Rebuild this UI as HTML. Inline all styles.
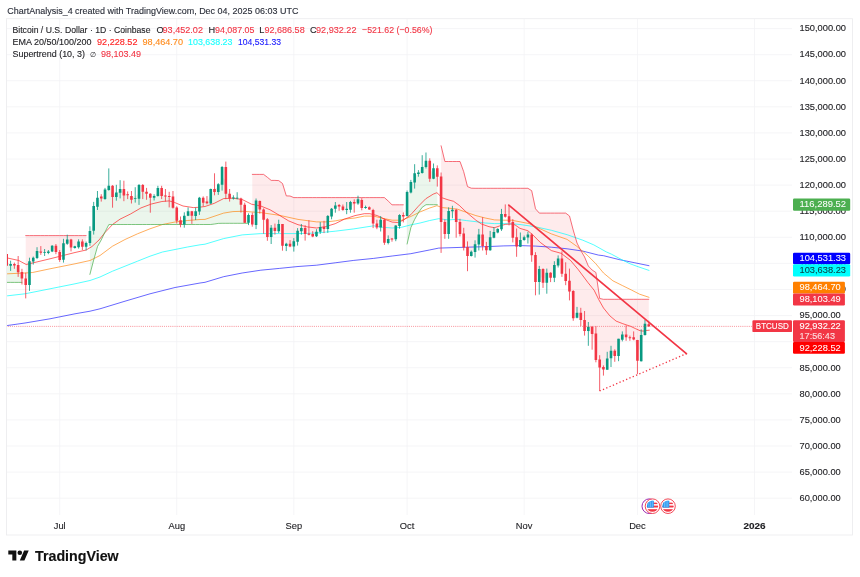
<!DOCTYPE html>
<html lang="en"><head><meta charset="utf-8"><title>BTCUSD chart</title>
<style>html,body{margin:0;padding:0;background:#fff;}body{width:860px;height:577px;overflow:hidden;position:relative;font-family:"Liberation Sans", Arial, Helvetica, sans-serif;}svg{position:absolute;left:0;top:0;display:block}text{font-family:"Liberation Sans", Arial, Helvetica, sans-serif;}</style>
</head><body>
<svg width="860" height="577" viewBox="0 0 860 577">
<rect width="860" height="577" fill="#ffffff"/>
<defs><clipPath id="cp"><rect x="6.5" y="18.7" width="785.5" height="496.3"/></clipPath></defs>
<path d="M6.5 28.60H792.0M6.5 54.69H792.0M6.5 80.78H792.0M6.5 106.87H792.0M6.5 132.96H792.0M6.5 159.05H792.0M6.5 185.14H792.0M6.5 211.23H792.0M6.5 237.32H792.0M6.5 263.41H792.0M6.5 289.50H792.0M6.5 315.59H792.0M6.5 341.68H792.0M6.5 367.77H792.0M6.5 393.86H792.0M6.5 419.95H792.0M6.5 446.04H792.0M6.5 472.13H792.0M6.5 498.22H792.0M59.70 18.7V515.0M176.76 18.7V515.0M293.81 18.7V515.0M407.09 18.7V515.0M524.15 18.7V515.0M637.43 18.7V515.0M754.48 18.7V515.0" stroke="#f3f3f5" stroke-width="0.8" fill="none"/>
<g clip-path="url(#cp)">
<polygon points="25.7,235.6 29.5,235.6 33.3,235.6 37.0,235.6 40.8,235.6 44.6,235.6 48.4,235.6 52.1,235.6 55.9,235.6 59.7,235.6 63.5,235.6 67.3,235.6 71.0,235.6 74.8,235.6 78.6,235.6 82.4,235.6 86.1,235.6 86.1,245.5 82.4,244.4 78.6,244.2 74.8,247.1 71.0,244.3 67.3,240.7 63.5,251.1 59.7,256.0 55.9,249.0 52.1,248.6 48.4,252.2 44.6,252.5 40.8,251.3 37.0,253.8 33.3,260.1 29.5,273.6 25.7,283.7" fill="rgba(242,54,69,0.10)"/>
<polygon points="89.9,274.4 93.7,260.0 97.5,246.5 101.2,240.0 105.0,232.0 108.8,224.6 112.6,224.5 116.3,224.5 120.1,224.5 123.9,224.5 127.7,224.5 131.4,224.5 135.2,224.5 139.0,224.5 142.8,224.5 146.5,224.5 150.3,224.5 154.1,224.5 157.9,224.5 161.7,224.5 165.4,224.5 169.2,224.5 173.0,224.5 176.8,224.5 180.5,224.5 184.3,224.5 188.1,224.5 191.9,224.5 195.6,224.5 199.4,224.5 203.2,224.5 207.0,224.5 210.7,224.5 214.5,224.0 218.3,223.4 222.1,223.3 225.8,223.3 229.6,223.3 233.4,223.3 237.2,223.3 240.9,223.3 244.7,223.3 248.5,223.3 248.5,219.1 244.7,213.3 240.9,203.4 237.2,196.9 233.4,197.7 229.6,195.7 225.8,180.4 222.1,177.1 218.3,188.6 214.5,187.5 210.7,196.3 207.0,201.3 203.2,200.8 199.4,205.3 195.6,213.8 191.9,215.5 188.1,212.7 184.3,220.1 180.5,222.1 176.8,214.5 173.0,201.0 169.2,198.1 165.4,195.7 161.7,192.2 157.9,191.6 154.1,197.1 150.3,199.3 146.5,193.3 142.8,190.0 139.0,193.2 135.2,196.6 131.4,197.6 127.7,195.0 123.9,191.6 120.1,190.1 116.3,193.7 112.6,193.9 108.8,183.7 105.0,194.1 101.2,197.7 97.5,201.3 93.7,218.4 89.9,236.5" fill="rgba(76,175,80,0.11)"/>
<polygon points="252.3,174.4 256.1,174.4 259.8,174.4 263.6,174.4 267.4,177.3 271.2,180.4 274.9,180.4 278.7,180.6 282.5,183.5 286.3,195.9 290.0,196.0 293.8,197.6 297.6,197.6 301.4,197.6 305.1,197.6 308.9,197.6 312.7,197.6 316.5,197.6 320.2,197.6 324.0,197.6 327.8,197.6 331.6,197.6 335.3,197.6 339.1,197.6 342.9,197.6 346.7,197.6 350.5,197.6 354.2,197.6 358.0,197.6 361.8,197.6 365.6,197.6 369.3,197.6 373.1,197.6 376.9,197.6 380.7,197.6 384.4,197.6 388.2,201.0 392.0,204.8 395.8,204.8 399.5,204.8 403.3,204.8 403.3,216.6 399.5,221.0 395.8,232.8 392.0,239.4 388.2,240.4 384.4,231.5 380.7,223.7 376.9,225.0 373.1,217.5 369.3,208.2 365.6,207.3 361.8,204.2 358.0,200.9 354.2,204.4 350.5,206.4 346.7,208.7 342.9,207.9 339.1,206.6 335.3,207.3 331.6,213.1 327.8,223.3 324.0,227.6 320.2,228.7 316.5,233.6 312.7,234.7 308.9,230.9 305.1,231.9 301.4,229.5 297.6,236.5 293.8,244.3 290.0,244.4 286.3,245.9 282.5,236.1 278.7,227.0 274.9,229.2 271.2,233.5 267.4,228.8 263.6,217.8 259.8,206.2 256.1,213.3 252.3,219.7" fill="rgba(242,54,69,0.10)"/>
<polygon points="407.1,244.0 410.9,227.5 414.6,219.5 418.4,212.7 422.2,207.3 426.0,204.7 429.7,204.7 433.5,204.7 437.3,204.7 437.3,174.2 433.5,172.4 429.7,169.9 426.0,162.2 422.2,167.2 418.4,173.3 414.6,177.1 410.9,186.9 407.1,203.8" fill="rgba(76,175,80,0.11)"/>
<polygon points="441.1,145.8 444.9,161.5 448.6,161.5 452.4,161.5 456.2,161.5 460.0,161.5 463.7,171.7 467.5,186.6 471.3,188.2 475.1,188.3 478.8,188.3 482.6,188.3 486.4,188.3 490.2,188.3 493.9,188.3 497.7,188.3 501.5,188.3 505.3,188.3 509.0,188.3 512.8,188.3 516.6,188.3 520.4,188.3 524.1,188.3 527.9,188.3 531.7,190.7 535.5,208.8 539.3,213.1 543.0,213.1 546.8,213.1 550.6,213.1 554.4,213.1 558.1,213.1 561.9,213.1 565.7,213.1 569.5,216.0 573.2,230.0 577.0,243.0 580.8,250.5 584.6,257.0 588.3,266.0 592.1,270.0 595.9,272.5 599.7,298.5 603.4,299.3 607.2,299.3 611.0,299.3 614.8,299.3 618.5,299.3 622.3,299.3 626.1,299.3 629.9,299.3 633.7,299.3 637.4,299.3 641.2,299.3 645.0,299.3 648.8,299.3 648.8,324.5 645.0,328.6 641.2,346.8 637.4,353.6 633.7,337.1 629.9,338.0 626.1,334.5 622.3,336.8 618.5,348.7 614.8,354.5 611.0,355.5 607.2,362.4 603.4,369.4 599.7,368.3 595.9,345.5 592.1,334.2 588.3,331.3 584.6,324.3 580.8,316.7 577.0,314.0 573.2,305.1 569.5,285.3 565.7,275.5 561.9,265.1 558.1,261.7 554.4,271.5 550.6,276.1 546.8,279.4 543.0,277.0 539.3,277.9 535.5,271.1 531.7,246.2 527.9,236.8 524.1,238.4 520.4,241.5 516.6,242.3 512.8,230.3 509.0,217.4 505.3,213.2 501.5,220.8 497.7,230.7 493.9,233.7 490.2,242.3 486.4,248.3 482.6,237.1 478.8,239.6 475.1,248.6 471.3,253.7 467.5,253.9 463.7,239.8 460.0,227.8 456.2,219.6 452.4,211.3 448.6,222.8 444.9,228.5 441.1,205.9" fill="rgba(242,54,69,0.10)"/>
<polygon points="6.5,282.4 21.9,282.4 21.9,276.0 18.2,267.5 14.4,265.2 10.6,265.3 6.5,261" fill="rgba(76,175,80,0.11)"/>
<polyline points="7.5,325.5 25.0,323.0 50.0,318.8 75.0,313.8 90.0,311.2 100.0,308.8 125.0,301.2 150.0,293.8 175.0,287.5 200.0,283.0 205.0,282.3 223.6,276.7 242.2,273.0 260.8,270.2 279.4,268.4 298.0,266.5 316.6,265.2 335.2,262.8 353.8,260.4 373.6,258.4 392.2,256.0 410.8,253.7 429.4,250.0 438.7,248.1 448.0,247.8 466.6,247.2 485.2,246.7 503.8,245.9 520.0,245.6 535.7,246.1 551.4,247.2 567.1,248.8 582.8,251.1 598.5,255.1 603.5,255.7 619.2,259.6 634.9,262.8 649.0,265.7" fill="none" stroke="#0000ff" stroke-width="0.8" stroke-opacity="0.75" stroke-linejoin="round" stroke-linecap="round"/>
<polyline points="7.5,295.8 25.0,293.8 50.0,288.8 75.0,283.8 90.0,280.5 100.0,277.0 112.5,271.2 125.0,266.2 137.5,261.2 150.0,256.2 162.5,252.0 175.0,249.5 187.5,247.0 200.0,244.8 205.0,244.2 223.6,238.6 242.2,234.9 260.8,233.6 279.4,233.6 298.0,233.6 316.6,233.0 335.2,231.2 353.8,228.9 373.6,225.8 382.9,227.3 392.2,228.0 401.5,227.3 410.8,224.9 420.1,223.0 429.4,220.6 438.7,218.7 448.0,219.9 457.3,219.3 466.6,220.6 475.9,221.7 485.2,223.0 494.5,223.6 503.8,223.6 515.0,224.0 520.0,224.5 535.7,226.8 551.4,230.3 567.1,234.7 582.8,240.2 593.8,244.9 606.3,251.9 611.3,254.1 622.0,259.8 629.9,263.7 638.0,266.7 649.0,270.4" fill="none" stroke="#00ffff" stroke-width="0.8" stroke-opacity="0.85" stroke-linejoin="round" stroke-linecap="round"/>
<polyline points="7.5,273.8 25.0,273.0 32.5,272.5 50.0,268.8 75.0,263.8 90.0,260.5 100.0,255.5 112.5,246.2 125.0,239.5 137.5,233.8 150.0,228.8 162.5,224.5 175.0,222.0 187.5,220.5 200.0,219.5 205.0,219.4 223.6,213.1 232.9,211.6 242.2,211.3 260.8,212.6 279.4,215.3 298.0,219.4 316.6,221.9 325.9,221.9 335.2,220.9 344.5,219.1 355.0,218.0 364.3,216.1 373.6,216.1 382.9,218.4 392.2,220.2 401.5,220.2 410.8,216.5 420.1,211.9 429.4,208.1 436.9,205.7 442.4,207.6 448.0,208.1 457.3,209.1 466.6,212.4 475.9,215.6 485.2,218.0 494.5,219.9 503.8,220.2 511.3,220.2 520.0,221.8 529.4,223.7 535.7,226.8 551.4,233.9 567.1,239.4 576.8,246.3 587.8,255.7 595.6,263.5 603.5,273.0 612.9,280.8 622.3,285.5 631.8,290.2 639.6,294.2 649.0,297.3" fill="none" stroke="#ff8000" stroke-width="0.8" stroke-opacity="0.8" stroke-linejoin="round" stroke-linecap="round"/>
<polyline points="7.5,258.0 18.8,260.5 26.2,264.5 32.5,263.0 50.0,258.8 75.0,252.5 86.2,250.0 92.0,246.5 99.0,240.0 105.0,232.5 112.9,224.2 120.0,219.2 130.5,214.0 141.0,207.9 151.4,204.0 161.9,201.5 169.2,200.9 174.4,202.4 183.0,206.0 193.3,207.6 198.5,207.3 205.0,206.5 214.3,203.3 223.6,198.6 232.9,198.2 242.2,199.5 251.5,204.2 260.8,206.0 270.1,209.8 279.4,215.3 288.7,220.9 298.0,224.7 307.3,226.9 316.6,228.0 325.9,226.5 335.2,223.7 344.5,219.1 355.0,215.6 364.3,213.7 369.9,213.7 377.3,215.6 384.8,219.3 392.2,222.1 397.8,222.5 403.4,220.2 410.8,214.7 418.3,206.3 425.7,198.8 433.1,194.2 436.9,192.7 442.4,197.9 448.0,199.8 453.6,201.3 459.2,205.3 466.6,212.4 475.9,220.2 481.5,224.0 489.0,226.7 494.5,227.7 500.1,225.8 505.7,224.3 511.3,224.0 515.0,224.9 520.0,228.4 527.8,230.7 532.6,234.7 540.4,242.5 551.4,250.6 561.1,253.3 570.5,260.4 578.4,269.8 587.8,282.4 594.1,290.2 598.8,299.7 603.5,308.0 609.8,315.8 616.1,321.1 622.8,323.7 630.6,326.3 635.4,328.6 640.1,330.7 643.2,331.1 645.6,330.5 649.3,330.2" fill="none" stroke="#ff0000" stroke-width="0.8" stroke-opacity="0.75" stroke-linejoin="round" stroke-linecap="round"/>
<polyline points="6.8,282.4 10.6,282.4 14.4,282.4 18.2,282.4 21.9,282.4" fill="none" stroke="#4caf50" stroke-width="0.8" stroke-opacity="0.9" stroke-linejoin="round" stroke-linecap="round"/>
<polyline points="25.7,235.6 29.5,235.6 33.3,235.6 37.0,235.6 40.8,235.6 44.6,235.6 48.4,235.6 52.1,235.6 55.9,235.6 59.7,235.6 63.5,235.6 67.3,235.6 71.0,235.6 74.8,235.6 78.6,235.6 82.4,235.6 86.1,235.6" fill="none" stroke="#f23645" stroke-width="0.8" stroke-opacity="0.9" stroke-linejoin="round" stroke-linecap="round"/>
<polyline points="89.9,274.4 93.7,260.0 97.5,246.5 101.2,240.0 105.0,232.0 108.8,224.6 112.6,224.5 116.3,224.5 120.1,224.5 123.9,224.5 127.7,224.5 131.4,224.5 135.2,224.5 139.0,224.5 142.8,224.5 146.5,224.5 150.3,224.5 154.1,224.5 157.9,224.5 161.7,224.5 165.4,224.5 169.2,224.5 173.0,224.5 176.8,224.5 180.5,224.5 184.3,224.5 188.1,224.5 191.9,224.5 195.6,224.5 199.4,224.5 203.2,224.5 207.0,224.5 210.7,224.5 214.5,224.0 218.3,223.4 222.1,223.3 225.8,223.3 229.6,223.3 233.4,223.3 237.2,223.3 240.9,223.3 244.7,223.3 248.5,223.3" fill="none" stroke="#4caf50" stroke-width="0.8" stroke-opacity="0.9" stroke-linejoin="round" stroke-linecap="round"/>
<polyline points="252.3,174.4 256.1,174.4 259.8,174.4 263.6,174.4 267.4,177.3 271.2,180.4 274.9,180.4 278.7,180.6 282.5,183.5 286.3,195.9 290.0,196.0 293.8,197.6 297.6,197.6 301.4,197.6 305.1,197.6 308.9,197.6 312.7,197.6 316.5,197.6 320.2,197.6 324.0,197.6 327.8,197.6 331.6,197.6 335.3,197.6 339.1,197.6 342.9,197.6 346.7,197.6 350.5,197.6 354.2,197.6 358.0,197.6 361.8,197.6 365.6,197.6 369.3,197.6 373.1,197.6 376.9,197.6 380.7,197.6 384.4,197.6 388.2,201.0 392.0,204.8 395.8,204.8 399.5,204.8 403.3,204.8" fill="none" stroke="#f23645" stroke-width="0.8" stroke-opacity="0.9" stroke-linejoin="round" stroke-linecap="round"/>
<polyline points="407.1,244.0 410.9,227.5 414.6,219.5 418.4,212.7 422.2,207.3 426.0,204.7 429.7,204.7 433.5,204.7 437.3,204.7" fill="none" stroke="#4caf50" stroke-width="0.8" stroke-opacity="0.9" stroke-linejoin="round" stroke-linecap="round"/>
<polyline points="441.1,145.8 444.9,161.5 448.6,161.5 452.4,161.5 456.2,161.5 460.0,161.5 463.7,171.7 467.5,186.6 471.3,188.2 475.1,188.3 478.8,188.3 482.6,188.3 486.4,188.3 490.2,188.3 493.9,188.3 497.7,188.3 501.5,188.3 505.3,188.3 509.0,188.3 512.8,188.3 516.6,188.3 520.4,188.3 524.1,188.3 527.9,188.3 531.7,190.7 535.5,208.8 539.3,213.1 543.0,213.1 546.8,213.1 550.6,213.1 554.4,213.1 558.1,213.1 561.9,213.1 565.7,213.1 569.5,216.0 573.2,230.0 577.0,243.0 580.8,250.5 584.6,257.0 588.3,266.0 592.1,270.0 595.9,272.5 599.7,298.5 603.4,299.3 607.2,299.3 611.0,299.3 614.8,299.3 618.5,299.3 622.3,299.3 626.1,299.3 629.9,299.3 633.7,299.3 637.4,299.3 641.2,299.3 645.0,299.3 648.8,299.3" fill="none" stroke="#f23645" stroke-width="0.8" stroke-opacity="0.9" stroke-linejoin="round" stroke-linecap="round"/>
<path d="M10.61 260.7V270.9M29.49 257.7V290.9M33.27 256.6V264.6M37.04 247.2V259.1M44.60 249.0V256.0M48.37 250.0V254.2M52.15 245.1V252.1M63.48 238.8V262.6M67.25 234.7V244.8M74.80 245.8V248.6M78.58 239.3V248.6M86.13 241.6V250.4M89.91 226.3V245.8M93.68 201.9V234.6M97.46 191.0V210.0M105.01 187.9V199.8M108.79 168.4V190.7M116.34 184.8V200.7M120.12 180.2V198.4M135.22 187.2V202.6M139.00 184.0V204.9M154.10 194.2V200.5M157.88 185.8V196.6M184.31 212.3V227.7M188.08 207.4V216.1M195.64 207.7V220.0M199.41 196.9V214.9M210.74 188.6V204.0M218.29 183.2V194.9M222.07 166.0V190.6M233.40 195.3V199.6M237.17 192.2V199.2M248.50 213.4V225.1M256.05 198.5V229.1M271.16 225.1V244.0M278.71 219.7V233.1M286.26 242.8V251.1M293.81 238.1V251.6M297.59 228.1V245.6M301.36 224.0V234.7M316.47 229.2V237.0M320.24 222.1V233.9M327.80 215.0V232.8M331.57 208.0V219.3M335.35 202.0V212.7M346.68 202.0V214.2M350.45 200.9V212.7M358.00 195.7V204.8M365.56 205.6V208.8M380.66 216.1V231.5M388.21 235.4V244.4M395.76 225.2V241.2M399.54 214.2V228.7M407.09 190.5V216.4M410.87 179.9V193.4M414.64 164.2V188.6M418.42 170.1V176.7M422.20 155.2V173.6M425.97 152.5V168.5M433.52 163.5V179.2M448.63 207.4V238.8M452.40 205.8V218.3M471.28 250.5V256.5M475.06 240.3V257.6M478.84 228.9V250.5M490.16 230.9V250.8M493.94 227.0V238.3M497.72 228.2V233.3M501.49 208.9V230.9M520.37 232.5V247.1M524.15 235.6V240.8M527.92 231.7V243.5M539.25 265.9V294.6M546.80 268.6V293.7M554.36 261.2V282.1M558.13 255.4V267.5M577.01 306.9V318.3M588.34 322.0V345.8M607.22 351.8V369.7M611.00 345.8V367.0M618.55 338.8V361.2M622.32 331.4V341.4M641.20 329.3V361.5M644.98 319.9V335.6" stroke="#089981" stroke-width="0.8" fill="none"/>
<path d="M14.39 262.6V268.8M18.16 256.0V276.9M21.94 268.8V284.5M25.72 272.7V298.4M40.82 246.1V254.9M55.92 244.0V254.2M59.70 250.0V261.9M71.03 238.8V251.4M82.36 239.3V250.0M101.24 194.2V201.6M112.56 185.1V207.7M123.89 180.7V201.2M127.67 191.4V199.1M131.44 191.0V203.5M142.77 184.0V199.1M146.55 187.9V199.8M150.32 193.2V212.7M161.65 185.8V199.1M165.43 189.0V201.6M169.20 191.8V207.4M172.98 191.0V208.6M176.76 206.3V223.5M180.53 216.5V227.3M191.86 210.9V223.9M203.19 196.4V206.3M206.96 196.1V204.3M214.52 173.3V195.3M225.84 161.6V199.2M229.62 189.0V201.6M240.95 197.7V212.6M244.72 202.7V223.1M252.28 212.6V226.7M259.83 200.5V213.7M263.60 208.4V233.8M267.38 218.1V240.8M274.93 223.6V234.6M282.48 224.0V250.7M290.04 240.1V247.2M305.14 225.2V240.6M308.92 220.2V235.4M312.69 231.2V237.2M324.02 220.8V233.1M339.12 204.0V210.8M342.90 204.5V210.8M354.23 199.3V212.7M361.78 198.2V210.3M369.33 206.4V209.9M373.11 208.8V228.1M376.88 219.7V229.2M384.44 218.6V244.9M391.99 238.1V241.7M403.32 212.4V222.4M429.75 158.3V181.9M437.30 165.4V186.6M441.08 172.5V252.9M444.85 219.4V238.8M456.18 208.9V237.7M459.96 218.8V236.4M463.73 227.8V250.5M467.51 241.4V271.2M482.61 217.2V250.5M486.39 241.9V254.9M505.27 204.4V217.6M509.04 205.5V225.4M512.82 219.1V242.4M516.60 228.5V256.8M531.70 233.3V261.8M535.48 252.2V295.3M543.03 268.3V287.9M550.58 272.2V282.1M561.91 251.3V276.9M565.68 262.3V285.2M569.46 268.6V300.4M573.24 290.2V320.8M580.79 307.8V326.2M584.56 311.0V335.6M592.12 326.2V349.7M595.89 326.2V362.3M599.67 355.2V391.0M603.44 365.4V375.6M614.77 349.3V361.8M626.10 325.4V340.8M629.88 335.6V340.8M633.65 331.4V340.3M637.43 339.9V374.1M648.76 320.7V327.0" stroke="#f23645" stroke-width="0.8" fill="none"/>
<path d="M9.31 264.0h2.6v1.8h-2.6zM28.19 261.2h2.6v23.7h-2.6zM31.97 257.7h2.6v3.9h-2.6zM35.74 251.0h2.6v7.0h-2.6zM43.30 252.1h2.6v0.7h-2.6zM47.07 251.4h2.6v1.7h-2.6zM50.85 245.8h2.6v5.6h-2.6zM62.18 243.3h2.6v16.5h-2.6zM65.95 239.5h2.6v4.2h-2.6zM73.50 246.2h2.6v1.7h-2.6zM77.28 241.6h2.6v5.6h-2.6zM84.83 243.0h2.6v3.8h-2.6zM88.61 230.9h2.6v12.1h-2.6zM92.38 206.0h2.6v24.8h-2.6zM96.16 197.7h2.6v9.1h-2.6zM103.71 189.6h2.6v9.5h-2.6zM107.49 185.8h2.6v4.2h-2.6zM115.04 192.4h2.6v4.6h-2.6zM118.82 189.0h2.6v3.8h-2.6zM133.92 198.0h2.6v0.8h-2.6zM137.70 185.1h2.6v13.7h-2.6zM152.80 196.0h2.6v1.7h-2.6zM156.58 187.9h2.6v8.1h-2.6zM183.01 215.8h2.6v8.7h-2.6zM186.78 211.3h2.6v4.5h-2.6zM194.34 211.3h2.6v4.7h-2.6zM198.11 197.7h2.6v13.8h-2.6zM209.44 189.0h2.6v14.6h-2.6zM216.99 184.3h2.6v7.8h-2.6zM220.77 167.1h2.6v17.7h-2.6zM232.10 197.4h2.6v1.1h-2.6zM235.87 197.7h2.6v0.9h-2.6zM247.20 214.9h2.6v7.8h-2.6zM254.75 200.5h2.6v24.6h-2.6zM269.86 227.8h2.6v9.1h-2.6zM277.41 224.0h2.6v7.2h-2.6zM284.96 243.8h2.6v2.2h-2.6zM292.51 241.2h2.6v5.2h-2.6zM296.29 230.7h2.6v11.0h-2.6zM300.06 228.1h2.6v3.1h-2.6zM315.17 231.8h2.6v4.4h-2.6zM318.94 227.1h2.6v4.7h-2.6zM326.50 216.1h2.6v13.0h-2.6zM330.27 208.8h2.6v7.8h-2.6zM334.05 205.6h2.6v3.1h-2.6zM345.38 208.8h2.6v1.1h-2.6zM349.15 202.0h2.6v7.8h-2.6zM356.70 199.3h2.6v4.2h-2.6zM364.26 206.9h2.6v1.1h-2.6zM379.36 219.7h2.6v7.8h-2.6zM386.91 239.1h2.6v3.8h-2.6zM394.46 225.5h2.6v13.8h-2.6zM398.24 215.0h2.6v11.0h-2.6zM405.79 192.1h2.6v23.9h-2.6zM409.57 181.9h2.6v10.5h-2.6zM413.34 173.3h2.6v9.1h-2.6zM417.12 172.5h2.6v1.6h-2.6zM420.90 167.0h2.6v6.0h-2.6zM424.67 160.7h2.6v6.3h-2.6zM432.22 168.2h2.6v10.5h-2.6zM447.33 211.0h2.6v23.1h-2.6zM451.10 209.7h2.6v1.6h-2.6zM469.98 251.8h2.6v4.2h-2.6zM473.76 244.2h2.6v7.8h-2.6zM477.54 234.5h2.6v10.0h-2.6zM488.86 237.2h2.6v13.0h-2.6zM492.64 232.0h2.6v5.7h-2.6zM496.42 228.9h2.6v3.6h-2.6zM500.19 214.1h2.6v15.2h-2.6zM519.07 239.9h2.6v6.8h-2.6zM522.85 237.2h2.6v2.7h-2.6zM526.62 234.5h2.6v3.1h-2.6zM537.95 269.0h2.6v13.0h-2.6zM545.50 272.7h2.6v10.0h-2.6zM553.06 265.1h2.6v12.6h-2.6zM556.83 258.5h2.6v6.9h-2.6zM575.71 312.8h2.6v5.0h-2.6zM587.04 326.7h2.6v4.2h-2.6zM605.92 358.4h2.6v11.3h-2.6zM609.70 350.8h2.6v7.5h-2.6zM617.25 338.8h2.6v17.3h-2.6zM621.02 334.5h2.6v5.3h-2.6zM639.90 335.1h2.6v26.1h-2.6zM643.68 323.8h2.6v11.3h-2.6z" fill="#089981"/>
<path d="M13.09 264.0h2.6v1.4h-2.6zM16.86 264.9h2.6v7.4h-2.6zM20.64 271.9h2.6v6.7h-2.6zM24.42 278.6h2.6v6.3h-2.6zM39.52 251.4h2.6v1.4h-2.6zM54.62 245.8h2.6v6.3h-2.6zM58.40 252.1h2.6v8.0h-2.6zM69.73 239.5h2.6v8.1h-2.6zM81.06 241.6h2.6v5.2h-2.6zM99.94 196.6h2.6v1.8h-2.6zM111.26 185.8h2.6v11.2h-2.6zM122.59 189.0h2.6v6.6h-2.6zM126.37 194.2h2.6v1.0h-2.6zM130.14 196.0h2.6v3.8h-2.6zM141.47 185.1h2.6v6.7h-2.6zM145.25 191.8h2.6v2.0h-2.6zM149.02 193.8h2.6v3.9h-2.6zM160.35 187.9h2.6v8.1h-2.6zM164.13 195.6h2.6v1.0h-2.6zM167.90 196.0h2.6v1.0h-2.6zM171.68 196.6h2.6v11.2h-2.6zM175.46 207.4h2.6v13.3h-2.6zM179.23 220.3h2.6v4.2h-2.6zM190.56 211.3h2.6v4.5h-2.6zM201.89 197.7h2.6v5.0h-2.6zM205.66 201.6h2.6v1.6h-2.6zM213.22 189.0h2.6v3.1h-2.6zM224.54 167.1h2.6v26.7h-2.6zM228.32 193.8h2.6v4.7h-2.6zM239.65 198.5h2.6v6.3h-2.6zM243.42 204.7h2.6v18.1h-2.6zM250.98 214.9h2.6v9.7h-2.6zM258.53 201.1h2.6v8.3h-2.6zM262.30 209.5h2.6v10.2h-2.6zM266.08 219.3h2.6v17.6h-2.6zM273.63 227.8h2.6v3.1h-2.6zM281.18 224.0h2.6v21.7h-2.6zM288.74 243.8h2.6v2.7h-2.6zM303.84 228.1h2.6v5.8h-2.6zM307.62 233.4h2.6v1.3h-2.6zM311.39 233.9h2.6v2.7h-2.6zM322.72 227.1h2.6v2.0h-2.6zM337.82 205.1h2.6v1.3h-2.6zM341.60 206.4h2.6v3.5h-2.6zM352.93 202.0h2.6v1.6h-2.6zM360.48 200.1h2.6v7.8h-2.6zM368.03 207.2h2.6v2.4h-2.6zM371.81 209.9h2.6v13.5h-2.6zM375.58 223.4h2.6v4.2h-2.6zM383.14 219.7h2.6v23.1h-2.6zM390.69 238.6h2.6v0.8h-2.6zM402.02 215.0h2.6v1.6h-2.6zM428.45 160.7h2.6v18.1h-2.6zM436.00 168.2h2.6v8.5h-2.6zM439.78 176.4h2.6v45.5h-2.6zM443.55 222.0h2.6v12.1h-2.6zM454.88 209.7h2.6v12.2h-2.6zM458.66 222.0h2.6v12.1h-2.6zM462.43 233.6h2.6v13.8h-2.6zM466.21 247.1h2.6v8.9h-2.6zM481.31 234.5h2.6v11.6h-2.6zM485.09 246.1h2.6v4.1h-2.6zM503.97 214.1h2.6v2.7h-2.6zM507.74 216.3h2.6v6.3h-2.6zM511.52 222.0h2.6v15.7h-2.6zM515.30 237.2h2.6v9.4h-2.6zM530.40 234.5h2.6v20.7h-2.6zM534.18 254.9h2.6v27.2h-2.6zM541.73 269.0h2.6v13.7h-2.6zM549.28 272.7h2.6v5.0h-2.6zM560.61 258.5h2.6v15.2h-2.6zM564.38 273.8h2.6v7.1h-2.6zM568.16 280.8h2.6v10.7h-2.6zM571.94 291.0h2.6v27.2h-2.6zM579.49 312.8h2.6v7.1h-2.6zM583.26 319.9h2.6v11.0h-2.6zM590.82 326.7h2.6v7.4h-2.6zM594.59 333.6h2.6v26.4h-2.6zM598.37 359.6h2.6v7.8h-2.6zM602.14 367.0h2.6v2.4h-2.6zM613.47 350.8h2.6v5.2h-2.6zM624.80 334.5h2.6v2.7h-2.6zM628.58 337.2h2.6v1.1h-2.6zM632.35 337.2h2.6v2.4h-2.6zM636.13 339.9h2.6v20.9h-2.6zM647.46 324.2h2.6v2.0h-2.6zM6.9 254h1.1v11.8h-1.1z" fill="#f23645"/>
<line x1="6.5" y1="326.38" x2="792.0" y2="326.38" stroke="#f23645" stroke-width="0.7" stroke-dasharray="0.7 1.2"/>
<line x1="508.8" y1="205.1" x2="686.4" y2="353.7" stroke="#f23645" stroke-width="1.7" stroke-linecap="round"/>
<line x1="599.6" y1="391" x2="686.4" y2="353.7" stroke="#f23645" stroke-width="1.3" stroke-dasharray="1.3 2.3"/>
</g>
<circle cx="649.3" cy="506.2" r="7.3" fill="#fff" stroke="#9c27b0" stroke-width="1"/>
<g transform="translate(652.5 506.2)"><circle r="7.3" fill="#fff" stroke="#f23645" stroke-width="0.9"/><clipPath id="fc652"><circle r="5.6"/></clipPath><g clip-path="url(#fc652)"><rect x="-6" y="-6" width="12" height="12" fill="#fff"/><rect x="-6" y="-3.6" width="12" height="1.5" fill="#f23645"/><rect x="-6" y="-0.6" width="12" height="1.9" fill="#f23645"/><rect x="-6" y="3.0" width="12" height="3" fill="#f23645"/><rect x="-6" y="-6" width="7.3" height="7.4" fill="#2196f3"/><path d="M-3.6 -5V1M-1.9 -5V1M-0.2 -5V1" stroke="#bbdefb" stroke-width="0.5"/></g></g>
<g transform="translate(668.0 506.2)"><circle r="7.3" fill="#fff" stroke="#f23645" stroke-width="0.9"/><clipPath id="fc668"><circle r="5.6"/></clipPath><g clip-path="url(#fc668)"><rect x="-6" y="-6" width="12" height="12" fill="#fff"/><rect x="-6" y="-3.6" width="12" height="1.5" fill="#f23645"/><rect x="-6" y="-0.6" width="12" height="1.9" fill="#f23645"/><rect x="-6" y="3.0" width="12" height="3" fill="#f23645"/><rect x="-6" y="-6" width="7.3" height="7.4" fill="#2196f3"/><path d="M-3.6 -5V1M-1.9 -5V1M-0.2 -5V1" stroke="#bbdefb" stroke-width="0.5"/></g></g>
<rect x="6.5" y="18.7" width="846.0" height="516.3" fill="none" stroke="#ededef" stroke-width="0.9"/>
<text x="7.3" y="14.0" font-size="8.8" fill="#2a2e39" textLength="291.1" lengthAdjust="spacingAndGlyphs" stroke="#2a2e39" stroke-width="0.12">ChartAnalysis_4 created with TradingView.com, Dec 04, 2025 06:03 UTC</text>
<text x="12.5" y="32.6" font-size="9.2" fill="#1e1e22" textLength="138.0" lengthAdjust="spacingAndGlyphs" stroke="#1e1e22" stroke-width="0.12">Bitcoin / U.S. Dollar · 1D · Coinbase</text>
<text x="156.5" y="32.6" font-size="9.2" fill="#1e1e22" stroke="#1e1e22" stroke-width="0.12">O</text>
<text x="162.5" y="32.6" font-size="9.2" fill="#f23645" textLength="40.5" lengthAdjust="spacingAndGlyphs" stroke="#f23645" stroke-width="0.12">93,452.02</text>
<text x="208.5" y="32.6" font-size="9.2" fill="#1e1e22" stroke="#1e1e22" stroke-width="0.12">H</text>
<text x="215.0" y="32.6" font-size="9.2" fill="#f23645" textLength="39.5" lengthAdjust="spacingAndGlyphs" stroke="#f23645" stroke-width="0.12">94,087.05</text>
<text x="259.3" y="32.6" font-size="9.2" fill="#1e1e22" stroke="#1e1e22" stroke-width="0.12">L</text>
<text x="264.4" y="32.6" font-size="9.2" fill="#f23645" textLength="40.3" lengthAdjust="spacingAndGlyphs" stroke="#f23645" stroke-width="0.12">92,686.58</text>
<text x="310.0" y="32.6" font-size="9.2" fill="#1e1e22" stroke="#1e1e22" stroke-width="0.12">C</text>
<text x="316.0" y="32.6" font-size="9.2" fill="#f23645" textLength="40.5" lengthAdjust="spacingAndGlyphs" stroke="#f23645" stroke-width="0.12">92,932.22</text>
<text x="362.0" y="32.6" font-size="9.2" fill="#f23645" textLength="70.5" lengthAdjust="spacingAndGlyphs" stroke="#f23645" stroke-width="0.12">−521.62 (−0.56%)</text>
<text x="12.5" y="44.6" font-size="9.2" fill="#1e1e22" textLength="79.0" lengthAdjust="spacingAndGlyphs" stroke="#1e1e22" stroke-width="0.12">EMA 20/50/100/200</text>
<text x="97.0" y="44.6" font-size="9.2" fill="#ff2020" textLength="40.5" lengthAdjust="spacingAndGlyphs" stroke="#ff2020" stroke-width="0.12">92,228.52</text>
<text x="142.5" y="44.6" font-size="9.2" fill="#ff8a1a" textLength="40.5" lengthAdjust="spacingAndGlyphs" stroke="#ff8a1a" stroke-width="0.12">98,464.70</text>
<text x="188.0" y="44.6" font-size="9.2" fill="#1affff" textLength="44.5" lengthAdjust="spacingAndGlyphs" stroke="#1affff" stroke-width="0.12">103,638.23</text>
<text x="238.0" y="44.6" font-size="9.2" fill="#2020ff" textLength="43.0" lengthAdjust="spacingAndGlyphs" stroke="#2020ff" stroke-width="0.12">104,531.33</text>
<text x="12.5" y="56.5" font-size="9.2" fill="#1e1e22" textLength="72.5" lengthAdjust="spacingAndGlyphs" stroke="#1e1e22" stroke-width="0.12">Supertrend (10, 3)</text>
<text x="90.0" y="56.9" font-size="7.2" fill="#1e1e22" font-family="DejaVu Sans, sans-serif">∅</text>
<text x="101.0" y="56.5" font-size="9.2" fill="#f23645" textLength="40.0" lengthAdjust="spacingAndGlyphs" stroke="#f23645" stroke-width="0.12">98,103.49</text>
<text x="799.5" y="31.3" font-size="9.3" fill="#1e1e22" textLength="46.5" lengthAdjust="spacingAndGlyphs" stroke="#1e1e22" stroke-width="0.12">150,000.00</text>
<text x="799.5" y="57.4" font-size="9.3" fill="#1e1e22" textLength="46.5" lengthAdjust="spacingAndGlyphs" stroke="#1e1e22" stroke-width="0.12">145,000.00</text>
<text x="799.5" y="83.5" font-size="9.3" fill="#1e1e22" textLength="46.5" lengthAdjust="spacingAndGlyphs" stroke="#1e1e22" stroke-width="0.12">140,000.00</text>
<text x="799.5" y="109.6" font-size="9.3" fill="#1e1e22" textLength="46.5" lengthAdjust="spacingAndGlyphs" stroke="#1e1e22" stroke-width="0.12">135,000.00</text>
<text x="799.5" y="135.7" font-size="9.3" fill="#1e1e22" textLength="46.5" lengthAdjust="spacingAndGlyphs" stroke="#1e1e22" stroke-width="0.12">130,000.00</text>
<text x="799.5" y="161.7" font-size="9.3" fill="#1e1e22" textLength="46.5" lengthAdjust="spacingAndGlyphs" stroke="#1e1e22" stroke-width="0.12">125,000.00</text>
<text x="799.5" y="187.8" font-size="9.3" fill="#1e1e22" textLength="46.5" lengthAdjust="spacingAndGlyphs" stroke="#1e1e22" stroke-width="0.12">120,000.00</text>
<text x="799.5" y="213.9" font-size="9.3" fill="#1e1e22" textLength="46.5" lengthAdjust="spacingAndGlyphs" stroke="#1e1e22" stroke-width="0.12">115,000.00</text>
<text x="799.5" y="240.0" font-size="9.3" fill="#1e1e22" textLength="46.5" lengthAdjust="spacingAndGlyphs" stroke="#1e1e22" stroke-width="0.12">110,000.00</text>
<text x="799.5" y="266.1" font-size="9.3" fill="#1e1e22" textLength="46.5" lengthAdjust="spacingAndGlyphs" stroke="#1e1e22" stroke-width="0.12">105,000.00</text>
<text x="799.5" y="292.2" font-size="9.3" fill="#1e1e22" textLength="46.5" lengthAdjust="spacingAndGlyphs" stroke="#1e1e22" stroke-width="0.12">100,000.00</text>
<text x="799.5" y="318.3" font-size="9.3" fill="#1e1e22" textLength="41.2" lengthAdjust="spacingAndGlyphs" stroke="#1e1e22" stroke-width="0.12">95,000.00</text>
<text x="799.5" y="344.4" font-size="9.3" fill="#1e1e22" textLength="41.2" lengthAdjust="spacingAndGlyphs" stroke="#1e1e22" stroke-width="0.12">90,000.00</text>
<text x="799.5" y="370.5" font-size="9.3" fill="#1e1e22" textLength="41.2" lengthAdjust="spacingAndGlyphs" stroke="#1e1e22" stroke-width="0.12">85,000.00</text>
<text x="799.5" y="396.6" font-size="9.3" fill="#1e1e22" textLength="41.2" lengthAdjust="spacingAndGlyphs" stroke="#1e1e22" stroke-width="0.12">80,000.00</text>
<text x="799.5" y="422.7" font-size="9.3" fill="#1e1e22" textLength="41.2" lengthAdjust="spacingAndGlyphs" stroke="#1e1e22" stroke-width="0.12">75,000.00</text>
<text x="799.5" y="448.7" font-size="9.3" fill="#1e1e22" textLength="41.2" lengthAdjust="spacingAndGlyphs" stroke="#1e1e22" stroke-width="0.12">70,000.00</text>
<text x="799.5" y="474.8" font-size="9.3" fill="#1e1e22" textLength="41.2" lengthAdjust="spacingAndGlyphs" stroke="#1e1e22" stroke-width="0.12">65,000.00</text>
<text x="799.5" y="500.9" font-size="9.3" fill="#1e1e22" textLength="41.2" lengthAdjust="spacingAndGlyphs" stroke="#1e1e22" stroke-width="0.12">60,000.00</text>
<rect x="793.0" y="198.6" width="57.2" height="12.1" rx="1.2" fill="#4caf50"/>
<text x="799.5" y="207.3" font-size="9.3" fill="#fff" textLength="46.5" lengthAdjust="spacingAndGlyphs" stroke="#fff" stroke-width="0.05">116,289.52</text>
<rect x="793.0" y="252.8" width="57.2" height="11.5" rx="1.2" fill="#0000ff"/>
<text x="799.5" y="261.2" font-size="9.3" fill="#fff" textLength="46.5" lengthAdjust="spacingAndGlyphs" stroke="#fff" stroke-width="0.05">104,531.33</text>
<rect x="793.0" y="264.3" width="57.2" height="12.2" rx="1.2" fill="#00ffff"/>
<text x="799.5" y="273.1" font-size="9.3" fill="#0b3b3e" textLength="46.5" lengthAdjust="spacingAndGlyphs" stroke="#0b3b3e" stroke-width="0.05">103,638.23</text>
<rect x="793.0" y="281.8" width="51.9" height="11.8" rx="1.2" fill="#ff8000"/>
<text x="799.5" y="290.4" font-size="9.3" fill="#fff" textLength="41.2" lengthAdjust="spacingAndGlyphs" stroke="#fff" stroke-width="0.05">98,464.70</text>
<rect x="793.0" y="293.6" width="51.9" height="11.8" rx="1.2" fill="#f23645"/>
<text x="799.5" y="302.2" font-size="9.3" fill="#fff" textLength="41.2" lengthAdjust="spacingAndGlyphs" stroke="#fff" stroke-width="0.05">98,103.49</text>
<rect x="793" y="320.2" width="51.9" height="21.8" rx="1.2" fill="#f23645"/>
<text x="799.5" y="329.3" font-size="9.3" fill="#fff" textLength="41.2" lengthAdjust="spacingAndGlyphs" stroke="#fff" stroke-width="0.12">92,932.22</text>
<text x="799.5" y="339.0" font-size="9.3" fill="#fff" textLength="35.5" lengthAdjust="spacingAndGlyphs" fill-opacity="0.75" stroke="#fff" stroke-width="0.12">17:56:43</text>
<rect x="793.0" y="341.9" width="51.9" height="11.8" rx="1.2" fill="#ff0000"/>
<text x="799.5" y="350.5" font-size="9.3" fill="#fff" textLength="41.2" lengthAdjust="spacingAndGlyphs" stroke="#fff" stroke-width="0.05">92,228.52</text>
<rect x="752.4" y="320.2" width="39.6" height="11.9" rx="1.2" fill="#f23645"/>
<text x="755.8" y="329.3" font-size="9.3" fill="#fff" textLength="33.0" lengthAdjust="spacingAndGlyphs" stroke="#fff" stroke-width="0.12">BTCUSD</text>
<text x="59.7" y="529.3" font-size="9.3" fill="#1e1e22" text-anchor="middle" stroke="#1e1e22" stroke-width="0.12">Jul</text>
<text x="176.8" y="529.3" font-size="9.3" fill="#1e1e22" text-anchor="middle" stroke="#1e1e22" stroke-width="0.12">Aug</text>
<text x="293.8" y="529.3" font-size="9.3" fill="#1e1e22" text-anchor="middle" stroke="#1e1e22" stroke-width="0.12">Sep</text>
<text x="407.1" y="529.3" font-size="9.3" fill="#1e1e22" text-anchor="middle" stroke="#1e1e22" stroke-width="0.12">Oct</text>
<text x="524.1" y="529.3" font-size="9.3" fill="#1e1e22" text-anchor="middle" stroke="#1e1e22" stroke-width="0.12">Nov</text>
<text x="637.4" y="529.3" font-size="9.3" fill="#1e1e22" text-anchor="middle" stroke="#1e1e22" stroke-width="0.12">Dec</text>
<text x="743.4" y="529.2" font-size="9.3" fill="#1e1e22" textLength="22.1" lengthAdjust="spacingAndGlyphs" font-weight="bold" stroke="#1e1e22" stroke-width="0.12">2026</text>
<g transform="translate(8.3 548.3) scale(0.575 0.556)" fill="#111111"><path d="M14 22H7V11H0V4h14v18zM28 22h-8l7.5-18h8L28 22z"/><circle cx="20" cy="8" r="4"/></g>
<text x="35.0" y="560.6" font-size="14.6" fill="#111111" textLength="83.7" lengthAdjust="spacingAndGlyphs" font-weight="bold" stroke="#111111" stroke-width="0.12">TradingView</text>
</svg>
</body></html>
